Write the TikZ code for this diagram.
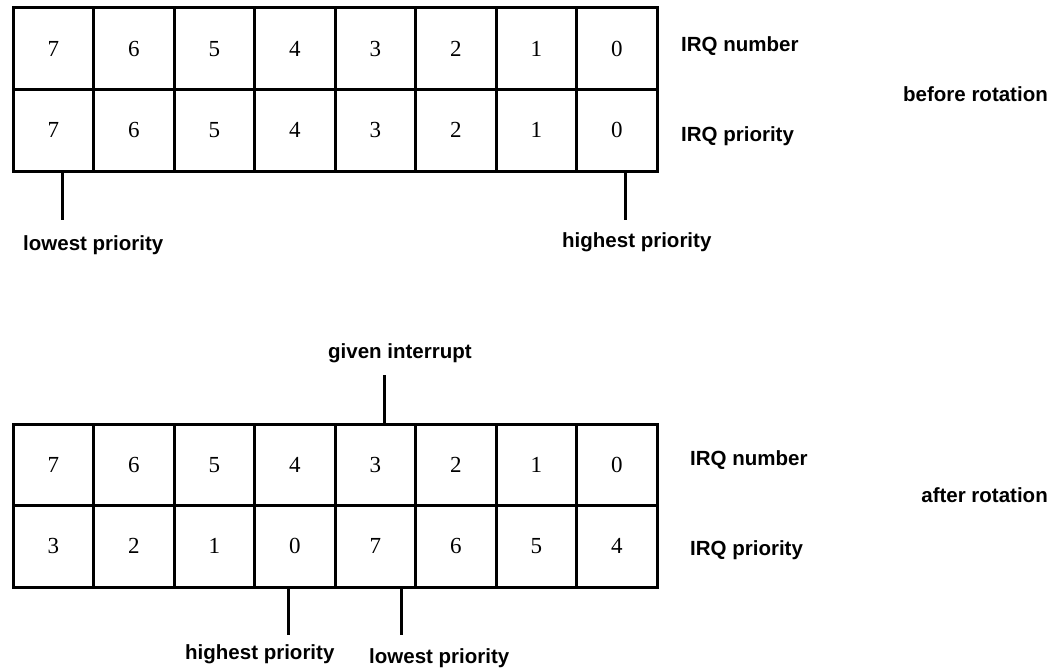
\documentclass[tikz,border=0pt]{standalone}
\usepackage{fontspec}
\setmainfont{Liberation Serif}
\newfontfamily\labfont{Liberation Sans}
\begin{document}
\begin{tikzpicture}[x=1pt,y=-1pt,
  cell/.style={draw, line width=3pt, minimum width=80.5pt, minimum height=81.5pt,
    inner sep=0pt, text depth=0pt, font=\fontsize{23}{26}\selectfont},
  lab/.style={anchor=base west, inner sep=0pt,
    font=\labfont\bfseries\fontsize{20.5}{24}\selectfont},
  tick/.style={line width=3pt}]
\useasboundingbox (0,0) rectangle (1056,669);
% before rotation table
\foreach \v [count=\i from 0] in {7,6,5,4,3,2,1,0} {
  \node[cell] (an\i) at (53.25+80.5*\i,48.75) {\v};
  \node[cell] (ap\i) at (53.25+80.5*\i,130.25) {\v};
}
% after rotation table
\foreach \v/\p [count=\i from 0] in {7/3,6/2,5/1,4/0,3/7,2/6,1/5,0/4} {
  \node[cell] (bn\i) at (53.25+80.5*\i,464.75) {\v};
  \node[cell] (bp\i) at (53.25+80.5*\i,546.25) {\p};
}
% labels, top
\node[lab] (anlab) at (681,52) {IRQ number};
\node[lab] (aplab) at (681,141) {IRQ priority};
\node[lab, anchor=base east] (before) at (1048,101) {before rotation};
\node[lab] (alow) at (23,250) {lowest priority};
\node[lab] (ahigh) at (562,247) {highest priority};
\coordinate (alowc) at (62,220);
\coordinate (ahighc) at (625,220);
\draw[tick] (alowc |- ap0.south) -- (alowc);
\draw[tick] (ahighc |- ap7.south) -- (ahighc);
% labels, bottom
\node[lab] (given) at (328,358) {given interrupt};
\coordinate (givenc) at (384,375);
\draw[tick] (givenc) -- (givenc |- bn4.north);
\node[lab] (bnlab) at (690,465) {IRQ number};
\node[lab] (bplab) at (690,555) {IRQ priority};
\node[lab, anchor=base east] (after) at (1048,502) {after rotation};
\node[lab] (bhigh) at (185,659) {highest priority};
\node[lab] (blow) at (369,663) {lowest priority};
\coordinate (bhighc) at (288,635);
\coordinate (blowc) at (401,635);
\draw[tick] (bhighc |- bp3.south) -- (bhighc);
\draw[tick] (blowc |- bp4.south) -- (blowc);
\end{tikzpicture}
\end{document}
